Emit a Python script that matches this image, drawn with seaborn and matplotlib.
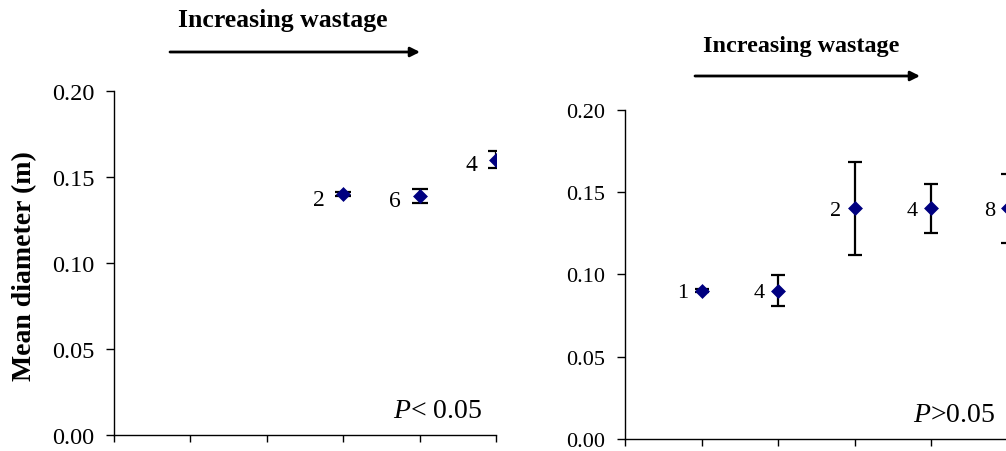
import numpy as np
import pandas as pd
import matplotlib
matplotlib.use("Agg")
import matplotlib.pyplot as plt
import seaborn as sns

# ---------------- data ----------------
left_pos = [3, 4, 5]
left_mean = [0.140, 0.139, 0.160]
left_err = [0.001, 0.004, 0.005]
left_n = ["2", "6", "4"]

right_pos = [1, 2, 3, 4, 5]
right_mean = [0.090, 0.090, 0.140, 0.140, 0.140]
right_err = [0.001, 0.0095, 0.028, 0.015, 0.021]
right_n = ["1", "4", "2", "4", "8"]

y_ticks = [0.00, 0.05, 0.10, 0.15, 0.20]
y_label = "Mean diameter (m)"
arrow_text = "Increasing wastage"
p_left = "$P$< 0.05"
p_right = "$P$>0.05"

# ---------------- style ----------------
sns.set_style("ticks")
plt.rcParams["font.family"] = ["Liberation Serif", "DejaVu Serif"]
plt.rcParams["mathtext.fontset"] = "custom"
plt.rcParams["mathtext.it"] = "Liberation Serif:italic"
plt.rcParams["mathtext.rm"] = "Liberation Serif"
for k in ["text.color", "axes.labelcolor", "xtick.color", "ytick.color", "axes.edgecolor"]:
    plt.rcParams[k] = "black"

W, H = 1006, 452
fig = plt.figure(figsize=(W / 100, H / 100), dpi=100)
fig.patch.set_facecolor("white")

def px_axes(x0, x1, ytop, ybot):
    return fig.add_axes([x0 / W, (H - ybot) / H, (x1 - x0) / W, (ybot - ytop) / H])

axL = px_axes(114, 496, 92, 436)
axR = px_axes(625, 1008, 110.7, 440)

def draw_panel(ax, pos, mean, err, n, tick_fs, lab_fs, lab_dx, lab_dy, capsize):
    df = pd.DataFrame({"pos": pos, "mean": mean, "err": err, "n": n})
    ax.errorbar(df["pos"], df["mean"], yerr=df["err"], fmt="none",
                ecolor="black", elinewidth=1.6, capsize=capsize,
                capthick=1.6, zorder=2)
    sns.scatterplot(data=df, x="pos", y="mean", marker="D", s=50,
                    color="#000080", edgecolor="#000080", linewidth=0.5,
                    ax=ax, zorder=3, legend=False)
    for _, r in df.iterrows():
        ax.annotate(r["n"], (r["pos"], r["mean"]), xytext=(lab_dx, lab_dy),
                    textcoords="offset points", ha="right", va="baseline",
                    fontsize=lab_fs, color="black")
    ax.set_xlim(0, 5)
    ax.set_ylim(0, 0.2)
    ax.set_xticks(range(0, 6))
    ax.set_xticklabels([])
    ax.set_yticks(y_ticks)
    ax.set_yticklabels([f"{v:.2f}" for v in y_ticks])
    ax.set_xlabel("")
    ax.set_ylabel("")
    for s in ["top", "right"]:
        ax.spines[s].set_visible(False)
    for s in ["left", "bottom"]:
        ax.spines[s].set_linewidth(1.0)
        ax.spines[s].set_color("black")
    ax.tick_params(axis="y", direction="out", length=6, width=1.0,
                   labelsize=tick_fs, pad=8, colors="black")
    ax.tick_params(axis="x", direction="out", length=5, width=1.0, colors="black")
    ax.patch.set_alpha(0)

draw_panel(axL, left_pos, left_mean, left_err, left_n, 17.5, 17, -13.5, -7.5, 5.8)
draw_panel(axR, right_pos, right_mean, right_err, right_n, 16, 16, -9.5, -4.5, 5.0)

axL.set_ylabel(y_label, fontsize=20, fontweight="bold", color="black")
axL.yaxis.label.set_verticalalignment("center")
axL.yaxis.set_label_coords((25 - 114) / 382, (436 - 266.5) / 344)

# arrows and headings
def heading(cx, base_y, x0, x1, ay, fs):
    fig.text(cx / W, (H - base_y) / H, arrow_text, ha="center", va="baseline",
             fontsize=fs, fontweight="bold", color="black")
    fig.add_artist(matplotlib.patches.FancyArrowPatch(
        (x0 / W, (H - ay) / H), (x1 / W, (H - ay) / H),
        transform=fig.transFigure, arrowstyle="-|>", mutation_scale=14,
        linewidth=2, color="black", shrinkA=0, shrinkB=0))

heading(283, 26.7, 170, 420, 53, 18.5)
heading(801.5, 51.7, 695, 920, 77, 17.4)

fig.text(393 / W, (H - 418) / H, p_left, ha="left", va="baseline", fontsize=20, color="black")
fig.text(912.7 / W, (H - 422) / H, p_right, ha="left", va="baseline", fontsize=20, color="black")

fig.savefig("out.png", dpi=100, facecolor="white")
